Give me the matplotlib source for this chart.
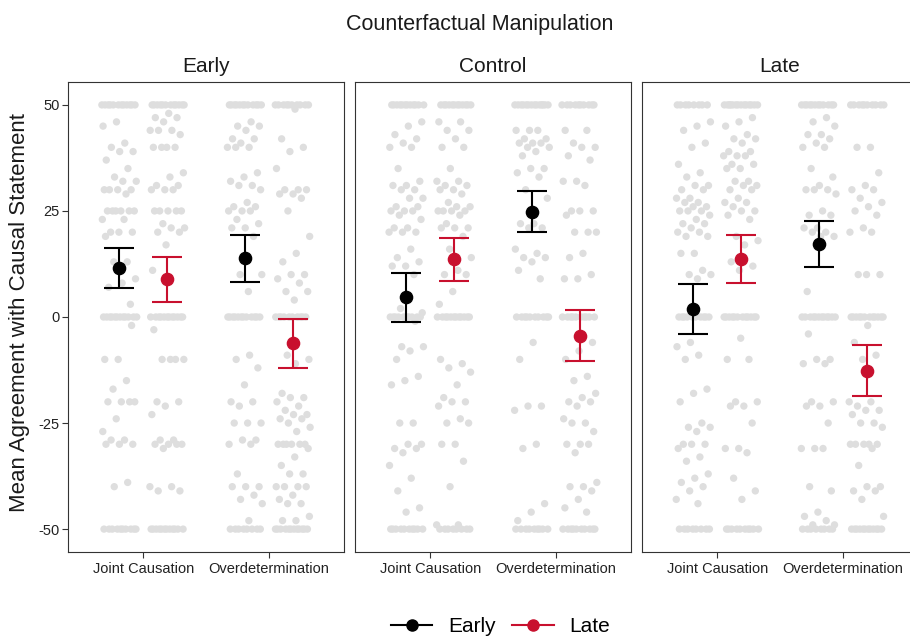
import numpy as np
import matplotlib
matplotlib.use("Agg")
import matplotlib.pyplot as plt
from matplotlib.lines import Line2D

plt.rcParams['font.family'] = ['Liberation Sans', 'DejaVu Sans']

# ---------------- data ----------------
panels = ["Early", "Control", "Late"]
categories = ["Joint Causation", "Overdetermination"]
timings = ["Early", "Late"]
yticks = [-50, -25, 0, 25, 50]
ytick_labels = ["-50", "-25", "0", "25", "50"]

# means and 95% CI per panel, per category
early_mean = [[11.6, 13.8], [4.6, 24.8], [1.9, 17.1]]
early_lo = [[6.8, 8.2], [-1.1, 20.0], [-3.9, 11.7]]
early_hi = [[16.3, 19.3], [10.4, 29.8], [7.7, 22.6]]
late_mean = [[8.9, -6.2], [13.6, -4.4], [13.6, -12.7]]
late_lo = [[3.5, -12.0], [8.6, -10.3], [7.9, -18.6]]
late_hi = [[14.1, -0.4], [18.7, 1.6], [19.3, -6.7]]

# raw responses (panel_category_timing)
early_jc_e = [50, 50, 50, 50, 50, 50, 50, 50, 50, 50, 50, 50, 46, 45, 41, 40, 39, 39, 37, 35, 33, 32, 32,
              30, 30, 30, 30, 29, 25, 25, 25, 25, 25, 25, 23, 23, 20, 20, 20, 19, 13, 13, 9, 8, 7, 3,
              0, 0, 0, 0, 0, 0, 0, 0, 0, 0, 0, 0, -2, -10, -10, -15, -17, -20, -20, -20, -20, -24, -27,
              -29, -29, -30, -30, -30, -39, -40, -50, -50, -50, -50, -50, -50, -50, -50, -50, -50]
early_jc_l = [50, 50, 50, 50, 50, 50, 50, 50, 50, 50, 50, 50, 48, 47, 47, 46, 44, 44, 44, 43, 40, 40, 40,
              40, 34, 33, 31, 31, 30, 30, 30, 25, 25, 25, 25, 25, 22, 21, 21, 20, 20, 17, 11,
              0, 0, 0, 0, 0, 0, 0, 0, 0, 0, 0, 0, -3, -10, -10, -10, -10, -20, -20, -21, -23, -29, -29,
              -30, -30, -30, -30, -31, -40, -40, -41, -41,
              -50, -50, -50, -50, -50, -50, -50, -50, -50, -50, -50, -50]
early_od_e = [50, 50, 50, 50, 50, 50, 50, 50, 50, 50, 50, 50, 46, 45, 45, 44, 42, 42, 41, 40, 40, 40, 34,
              33, 32, 31, 31, 30, 27, 26, 26, 25, 25, 25, 23, 22, 21, 21, 19, 10, 10, 6,
              0, 0, 0, 0, 0, 0, 0, 0, 0, 0, 0, 0, -9, -10, -12, -16, -20, -20, -21, -25, -25, -25, -29,
              -29, -30, -30, -37, -40, -40, -40, -42, -43, -44, -48, -50, -50, -50, -50, -50, -50, -50, -50]
early_od_l = [50, 50, 50, 50, 50, 50, 50, 50, 50, 50, 49, 42, 40, 39, 35, 30, 30, 30, 29, 29, 28, 25, 19,
              15, 13, 10, 10, 9, 8, 6, 6, 4, 0, 0, 0, 0, 0, 0, 0, 0, 0, 0, -9, -10, -11, -18, -19, -19,
              -20, -21, -22, -23, -23, -24, -24, -25, -26, -27, -30, -30, -30, -30, -30, -30, -31, -33,
              -35, -37, -37, -40, -40, -40, -40, -42, -43, -44, -44, -47, -48, -48,
              -50, -50, -50, -50, -50, -50, -50, -50, -50, -50, -50, -50]
control_jc_e = [50, 50, 50, 50, 50, 50, 50, 50, 50, 50, 50, 50, 46, 45, 43, 42, 41, 40, 40, 35, 32, 31, 31,
                30, 30, 28, 28, 26, 26, 25, 25, 25, 24, 23, 21, 21, 20, 20, 20, 16, 14, 13, 12, 12, 10,
                2, 1, 0, 0, 0, 0, 0, 0, 0, 0, 0, 0, -1, -7, -7, -8, -10, -14, -15, -16, -25, -25, -30,
                -30, -31, -31, -32, -35, -38, -41, -45, -46,
                -50, -50, -50, -50, -50, -50, -50, -50, -50, -50]
control_jc_l = [50, 50, 50, 50, 50, 50, 50, 50, 50, 50, 50, 50, 46, 46, 44, 44, 42, 40, 40, 35, 32, 32, 31,
                31, 30, 30, 29, 27, 26, 26, 25, 25, 25, 25, 24, 22, 21, 21, 21, 19, 16, 14, 11, 10, 10,
                6, 3, 0, 0, 0, 0, 0, 0, 0, 0, 0, 0, 0, 0, -10, -11, -12, -13, -16, -19, -20, -20, -21,
                -24, -25, -25, -30, -30, -34, -40, -49, -49, -50, -50, -50, -50, -50, -50, -50, -50]
control_od_e = [50, 50, 50, 50, 50, 50, 50, 50, 50, 50, 50, 50, 50, 50, 44, 44, 44, 42, 42, 41, 41, 41,
                40, 40, 39, 38, 35, 35, 34, 33, 30, 28, 22, 22, 21, 21, 16, 15, 14, 14, 13, 11, 9,
                0, 0, 0, 0, 0, 0, 0, 0, 0, 0, -6, -10, -21, -21, -22, -30, -31, -44, -46, -48,
                -50, -50, -50, -50, -50, -50, -50, -50, -50]
control_od_l = [50, 50, 50, 50, 50, 50, 50, 50, 50, 50, 44, 44, 41, 40, 40, 38, 37, 32, 32, 31, 25, 25, 25,
                24, 20, 20, 20, 15, 14, 10, 9, 9, 0, 0, 0, 0, 0, 0, 0, 0, 0, 0, -6, -8, -10, -14, -15,
                -18, -19, -20, -20, -21, -24, -25, -25, -27, -30, -30, -30, -32, -39, -40, -40, -41, -43,
                -45, -46, -50, -50, -50, -50, -50, -50, -50, -50, -50, -50]
late_jc_e = [50, 50, 50, 50, 50, 50, 50, 50, 46, 45, 44, 41, 40, 36, 34, 33, 31, 31, 30, 30, 28, 28, 27,
             27, 26, 26, 25, 25, 25, 24, 23, 22, 22, 21, 20, 20, 19, 19, 15, 15, 11, 10, 10, 9,
             0, 0, 0, 0, 0, 0, 0, 0, 0, 0, -6, -7, -9, -10, -17, -18, -20, -25, -26, -26, -27, -30, -30,
             -30, -31, -33, -34, -37, -38, -39, -40, -41, -43, -44, -50, -50, -50, -50, -50, -50, -50, -50]
late_jc_l = [50, 50, 50, 50, 50, 50, 50, 50, 50, 50, 50, 50, 50, 50, 47, 46, 45, 43, 42, 42, 41, 39, 39,
             38, 38, 38, 36, 36, 35, 35, 32, 32, 31, 31, 30, 30, 28, 27, 27, 26, 25, 25, 24, 23, 19, 18,
             17, 13, 12, 11, 0, 0, 0, 0, 0, 0, 0, 0, 0, 0, 0, 0, -5, -10, -10, -20, -20, -21, -21, -25,
             -31, -31, -32, -38, -41, -43, -50, -50, -50, -50, -50, -50, -50, -50, -50, -50]
late_od_e = [50, 50, 50, 50, 50, 50, 50, 50, 50, 50, 50, 50, 47, 46, 45, 43, 43, 42, 41, 40, 40, 35, 33,
             31, 30, 30, 30, 29, 25, 24, 24, 21, 21, 20, 20, 19, 19, 6, 0, 0, 0, 0, 0, 0, 0, 0, 0, 0, 0,
             0, -4, -10, -10, -11, -11, -20, -20, -21, -21, -25, -31, -31, -31, -40, -41, -46, -47, -48,
             -49, -49, -50, -50, -50, -50, -50, -50, -50, -50]
late_od_l = [50, 50, 50, 50, 50, 50, 50, 50, 50, 50, 40, 40, 34, 31, 30, 30, 28, 27, 26, 25, 24, 21, 20,
             20, 10, 10, 10, 0, 0, 0, 0, 0, 0, 0, 0, 0, 0, 0, 0, -2, -6, -9, -10, -20, -20, -21, -22,
             -22, -23, -25, -25, -26, -30, -30, -30, -30, -30, -31, -35, -40, -40, -41, -41, -43, -47,
             -50, -50, -50, -50, -50, -50, -50, -50, -50, -50, -50, -50]

raw = [
    [[early_jc_e, early_jc_l], [early_od_e, early_od_l]],
    [[control_jc_e, control_jc_l], [control_od_e, control_od_l]],
    [[late_jc_e, late_jc_l], [late_od_e, late_od_l]],
]
means = [early_mean, late_mean]
los = [early_lo, late_lo]
his = [early_hi, late_hi]

# ---------------- style ----------------
W, H = 910, 637
fig = plt.figure(figsize=(W / 100, H / 100), dpi=100)
colors = ["#000000", "#C8102E"]
grey = "#DEDEDE"
border = "#333333"
dodge = 0.19
jit = 0.14


def fx(px):
    return px / W


def fy(py):
    return 1 - py / H


panel_left = [68, 355, 642]
panel_w = 276
panel_top, panel_bot = 82, 552

for p, name in enumerate(panels):
    ax = fig.add_axes([fx(panel_left[p]), fy(panel_bot), panel_w / W, (panel_bot - panel_top) / H])
    ax.set_xlim(0.4, 2.6)
    ax.set_ylim(-55.4, 55.4)
    for c in range(len(categories)):
        for t in range(len(timings)):
            vals = np.array(raw[p][c][t], dtype=float)
            n = len(vals)
            phase = 0.13 * (p * 4 + c * 2 + t)
            offs = jit * (2 * ((np.arange(n) * 0.6180339887 + phase) % 1.0) - 1)
            xc = c + 1 + (-dodge if t == 0 else dodge)
            ax.scatter(xc + offs, vals, s=28, color=grey, edgecolors='none', zorder=1)
    for t in range(len(timings)):
        xs = np.arange(1, len(categories) + 1) + (-dodge if t == 0 else dodge)
        m = np.array(means[t][p])
        lo = np.array(los[t][p])
        hi = np.array(his[t][p])
        ax.errorbar(xs, m, yerr=[m - lo, hi - m], fmt='none', ecolor=colors[t],
                    elinewidth=1.5, capsize=11, capthick=1.5, zorder=3)
        ax.plot(xs, m, 'o', color=colors[t], markersize=8.8, zorder=4, linestyle='none')
    ax.set_xticks([1, 2])
    ax.set_xticklabels(categories, fontsize=10.5, color='#222222')
    ax.set_yticks(yticks)
    if p == 0:
        ax.set_yticklabels(ytick_labels, fontsize=10.5, color='#222222')
        ax.tick_params(axis='y', length=4, width=0.8, color=border, pad=2)
    else:
        ax.set_yticklabels([])
        ax.tick_params(axis='y', length=0)
    ax.tick_params(axis='x', length=4, width=0.8, color=border, pad=3)
    for s in ax.spines.values():
        s.set_color(border)
        s.set_linewidth(0.8)
    fig.text(fx(panel_left[p] + panel_w / 2), fy(72), name, ha='center', va='baseline',
             fontsize=15, color='#1A1A1A')

fig.text(fx(479.5), fy(30), "Counterfactual Manipulation", ha='center', va='baseline',
         fontsize=15.5, color='#1A1A1A')
fig.text(fx(20), fy(313), "Mean Agreement with Causal Statement", rotation=90,
         ha='center', va='center', fontsize=16, color='#1A1A1A')

handles = [Line2D([0], [0], color=colors[t], lw=1.5, marker='o', markersize=8) for t in range(2)]
fig.legend(handles, timings, loc='center', bbox_to_anchor=(fx(500.5), fy(627)), ncol=2,
           frameon=False, fontsize=15, handlelength=2.0, handletextpad=0.75, columnspacing=0.8,
           borderpad=0, borderaxespad=0)

fig.savefig("out.png", dpi=100)
